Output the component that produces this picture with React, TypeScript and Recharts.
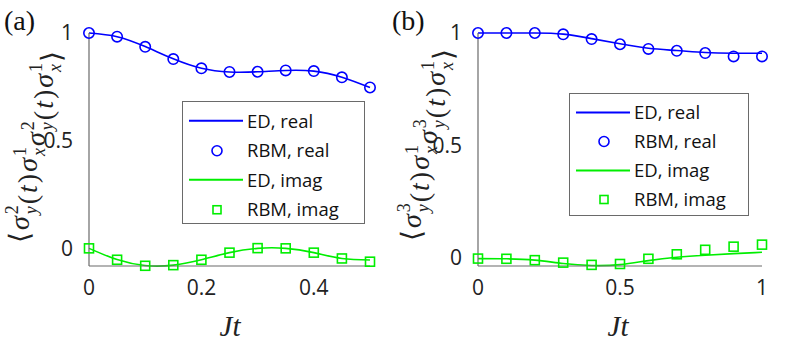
import { LineChart, Line, XAxis, YAxis } from 'recharts';

const BLUE = '#0000ff';
const GREEN = '#00ee00';
const FRAME = '#6a6a6a';

// panel (a)
const timesA = [0, 0.05, 0.1, 0.15, 0.2, 0.25, 0.3, 0.35, 0.4, 0.45, 0.5];
const edRealA = [1, 0.983, 0.937, 0.88, 0.836, 0.819, 0.82, 0.826, 0.823, 0.795, 0.747];
const rbmRealA = [1, 0.983, 0.936, 0.879, 0.836, 0.819, 0.82, 0.826, 0.823, 0.794, 0.747];
const edImagA = [0, -0.052, -0.08, -0.078, -0.053, -0.02, 0.0, 0.0, -0.02, -0.047, -0.054];
const rbmImagA = [0, -0.053, -0.081, -0.078, -0.053, -0.02, 0.001, 0, -0.02, -0.047, -0.062];
const xTicksA = [0, 0.2, 0.4];

// panel (b)
const timesB = [0, 0.1, 0.2, 0.3, 0.4, 0.5, 0.6, 0.7, 0.8, 0.9, 1];
const edRealB = [1, 1, 1, 0.995, 0.975, 0.952, 0.932, 0.922, 0.913, 0.91, 0.91];
const rbmRealB = [1, 1, 1, 0.994, 0.973, 0.95, 0.929, 0.921, 0.911, 0.896, 0.896];
const edImagB = [-0.003, -0.004, -0.01, -0.025, -0.034, -0.03, -0.012, 0.003, 0.012, 0.019, 0.025];
const rbmImagB = [-0.003, -0.004, -0.01, -0.021, -0.031, -0.027, -0.004, 0.016, 0.036, 0.05, 0.059];
const xTicksB = [0, 0.5, 1];

const yTicks = [0, 0.5, 1];
const legendItems = ['ED, real', 'RBM, real', 'ED, imag', 'RBM, imag'];

const build = (t: number[], er: number[], rr: number[], ei: number[], ri: number[]) =>
  t.map((v, i) => ({ t: v, edReal: er[i], rbmReal: rr[i], edImag: ei[i], rbmImag: ri[i] }));

const dataA = build(timesA, edRealA, rbmRealA, edImagA, rbmImagA);
const dataB = build(timesB, edRealB, rbmRealB, edImagB, rbmImagB);

const tickFont = { fontFamily: 'Open Sans', fontSize: 21, fill: '#222' };

const SquareDot = (props: any) => {
  const { cx, cy, index } = props;
  if (cx == null || cy == null) return null;
  return <rect key={index} x={cx - 4.5} y={cy - 4.5} width={9} height={9} fill="none" stroke={GREEN} strokeWidth={1.6} />;
};

const Panel = ({ data, xDomain, xTicks, yDomain, margin }: any) => (
  <LineChart width={400} height={348} data={data} margin={margin}>
    <XAxis
      xAxisId="b"
      type="number"
      dataKey="t"
      domain={xDomain}
      ticks={xTicks}
      height={40}
      tickLine={false}
      tickMargin={8}
      axisLine={{ stroke: FRAME, strokeWidth: 1.2 }}
      tick={tickFont}
    />
    <XAxis xAxisId="bt" type="number" dataKey="t" domain={xDomain} ticks={xTicks} height={0} mirror tick={false} tickSize={4} tickLine={{ stroke: FRAME }} axisLine={false} />
    <XAxis xAxisId="top" orientation="top" type="number" dataKey="t" domain={xDomain} ticks={xTicks} height={0} mirror tick={false} tickSize={4} tickLine={{ stroke: FRAME }} axisLine={{ stroke: FRAME, strokeWidth: 1.2 }} />
    <YAxis
      yAxisId="l"
      type="number"
      domain={yDomain}
      ticks={yTicks}
      width={60}
      tickLine={false}
      tickMargin={10}
      axisLine={{ stroke: FRAME, strokeWidth: 1.2 }}
      tick={tickFont}
    />
    <YAxis yAxisId="lt" type="number" domain={yDomain} ticks={yTicks} width={0} mirror tick={false} tickSize={4} tickLine={{ stroke: FRAME }} axisLine={false} />
    <YAxis yAxisId="r" orientation="right" type="number" domain={yDomain} ticks={yTicks} width={0} mirror tick={false} tickSize={4} tickLine={{ stroke: FRAME }} axisLine={{ stroke: FRAME, strokeWidth: 1.2 }} />
    <Line xAxisId="b" yAxisId="l" type="natural" dataKey="edReal" stroke={BLUE} strokeWidth={1.6} dot={false} isAnimationActive={false} />
    <Line xAxisId="b" yAxisId="l" dataKey="rbmReal" stroke="none" dot={{ r: 5.2, stroke: BLUE, strokeWidth: 1.6, fill: 'none' }} isAnimationActive={false} />
    <Line xAxisId="b" yAxisId="l" type="natural" dataKey="edImag" stroke={GREEN} strokeWidth={1.6} dot={false} isAnimationActive={false} />
    <Line xAxisId="b" yAxisId="l" dataKey="rbmImag" stroke="none" dot={SquareDot} isAnimationActive={false} />
  </LineChart>
);

const Legend = ({ left, top, width, height, rowH }: any) => (
  <div
    style={{
      position: 'absolute',
      left,
      top,
      width,
      height,
      border: `1.2px solid ${FRAME}`,
      background: '#fff',
      boxSizing: 'border-box',
      fontFamily: 'Open Sans',
      fontSize: 18.5,
      color: '#111',
    }}
  >
    {legendItems.map((label, i) => {
      const color = i < 2 ? BLUE : GREEN;
      return (
        <div key={label} style={{ position: 'absolute', left: 0, top: 4 + i * rowH, height: rowH, display: 'flex', alignItems: 'center' }}>
          <svg width={64} height={rowH} style={{ display: 'block' }}>
            {i % 2 === 0 ? (
              <line x1={6} x2={60} y1={rowH / 2} y2={rowH / 2} stroke={color} strokeWidth={1.8} />
            ) : i === 1 ? (
              <circle cx={34} cy={rowH / 2} r={5} fill="none" stroke={color} strokeWidth={1.6} />
            ) : (
              <rect x={30} y={rowH / 2 - 4} width={8} height={8} fill="none" stroke={color} strokeWidth={1.6} />
            )}
          </svg>
          <span style={{ lineHeight: 1, whiteSpace: 'nowrap' }}>{label}</span>
        </div>
      );
    })}
  </div>
);

const LS = 2;

const MathLabel = ({ x, y, k }: { x: number; y: number; k: number }) => {
  const sup = { fontSize: 18, fontStyle: 'normal' as const };
  const sub = { fontSize: 18, fontStyle: 'italic' as const };
  const sigma = (s: number, c: string, key: string) => [
    <tspan key={key + 'a'} fontStyle="italic">σ</tspan>,
    <tspan key={key + 'b'} dy={-11} style={sup}>{s}</tspan>,
    <tspan key={key + 'c'} dx={-(9 + LS)} dy={19} style={sub}>{c}</tspan>,
    <tspan key={key + 'd'} dx={0} dy={-8}>{''}</tspan>,
  ];
  return (
    <text
      x={x}
      y={y}
      transform={`rotate(-90 ${x} ${y})`}
      textAnchor="middle"
      fontFamily="Liberation Serif"
      fontSize={28}
      fill="#222"
      letterSpacing={LS}
    >
      <tspan>⟨</tspan>
      {sigma(k, 'y', 's1')}
      <tspan>(</tspan>
      <tspan fontStyle="italic">t</tspan>
      <tspan>)</tspan>
      {sigma(1, 'x', 's2')}
      {sigma(k, 'y', 's3')}
      <tspan>(</tspan>
      <tspan fontStyle="italic">t</tspan>
      <tspan>)</tspan>
      {sigma(1, 'x', 's4')}
      <tspan>⟩</tspan>
    </text>
  );
};

export default function App() {
  return (
    <div style={{ position: 'fixed', left: 0, top: 0, width: 797, height: 348, background: '#fff' }}>
      <div style={{ position: 'absolute', left: 0, top: 0 }}>
        <Panel data={dataA} xDomain={[0, 0.5]} xTicks={xTicksA} yDomain={[-0.082, 1]} margin={{ top: 33, right: 30, bottom: 42, left: 29 }} />
      </div>
      <div style={{ position: 'absolute', left: 400, top: 0 }}>
        <Panel data={dataB} xDomain={[0, 1]} xTicks={xTicksB} yDomain={[-0.036, 1]} margin={{ top: 33, right: 38, bottom: 42, left: 18 }} />
      </div>
      <Legend left={182} top={101} width={183} height={123} rowH={29.5} />
      <Legend left={569} top={93} width={180} height={123} rowH={29} />
      <svg width={797} height={348} style={{ position: 'absolute', left: 0, top: 0, pointerEvents: 'none' }}>
        <text x={4} y={30} fontFamily="Liberation Serif" fontSize={28} fill="#111">(a)</text>
        <text x={392} y={30} fontFamily="Liberation Serif" fontSize={28} fill="#111">(b)</text>
        <text x={230} y={336} fontFamily="Liberation Serif" fontStyle="italic" fontSize={29} fill="#222" textAnchor="middle">Jt</text>
        <text x={618} y={336} fontFamily="Liberation Serif" fontStyle="italic" fontSize={29} fill="#222" textAnchor="middle">Jt</text>
        <MathLabel x={29} y={146} k={2} />
        <MathLabel x={421} y={144} k={3} />
      </svg>
    </div>
  );
}
